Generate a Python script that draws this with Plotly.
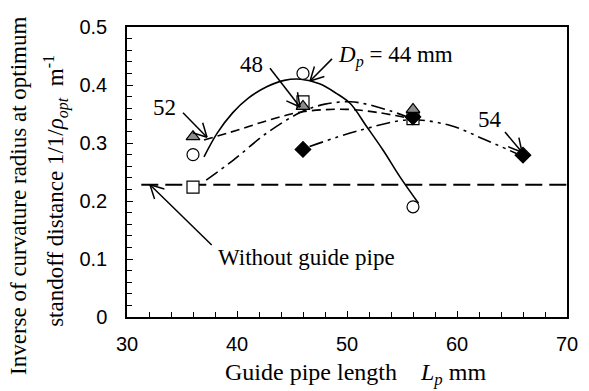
import math
import plotly.graph_objects as go

# ---- data ----
lp_points = [36, 46, 56]
d44_vals = [0.28, 0.42, 0.19]          # circles
d48_vals = [0.224, 0.371, 0.342]       # squares
d52_vals = [0.311, 0.363, 0.358]       # triangles
lp_54 = [46, 56, 66]
d54_vals = [0.289, 0.345, 0.279]       # diamonds

# fitted curves
c44_x = [37, 38.2, 39.6, 41, 42.7, 44.3, 45.8, 47.5, 49.0, 50.3, 51.8, 53.3, 54.8, 56.5]
c44_y = [0.276, 0.317, 0.352, 0.377, 0.397, 0.408, 0.410, 0.402, 0.386, 0.368, 0.328, 0.287, 0.242, 0.196]
c48_x = [37.2, 39.7, 42.7, 45.7, 48.0, 50.3, 52.0, 54.0, 55.5]
c48_y = [0.236, 0.271, 0.317, 0.352, 0.367, 0.371, 0.366, 0.355, 0.345]
c52_x = [37.0, 40.0, 43.0, 46.0, 50.0, 53.0, 55.5]
c52_y = [0.305, 0.322, 0.340, 0.354, 0.358, 0.352, 0.343]
c54_x = [46.6, 51.2, 55.7, 59.4, 62.4, 65.4]
c54_y = [0.294, 0.322, 0.340, 0.330, 0.307, 0.282]
no_pipe_x = [31.3, 70]
no_pipe_y = [0.228, 0.228]

# arrows: head and tail positions (data units)
arrow_head_x = [37.27, 45.73, 46.64, 65.91, 32.09]
arrow_head_y = [0.310, 0.362, 0.407, 0.284, 0.228]
arrow_tail_x = [35.09, 43.0, 48.64, 64.36, 37.7]
arrow_tail_y = [0.352, 0.429, 0.445, 0.319, 0.124]

label_x = [33.45, 41.36, 49.0, 63.0, 38.1]
label_y = [0.362, 0.436, 0.450, 0.340, 0.103]
label_text = ["52", "48", "<i>D</i><sub><i>p</i></sub> = 44 mm", "54", "Without guide pipe"]
label_anchor = ["center", "center", "left", "center", "left"]

x_range = [30, 70]
y_range = [0, 0.5]
x_ticks = [30, 40, 50, 60, 70]
y_ticks = [0, 0.1, 0.2, 0.3, 0.4, 0.5]
y_tick_text = ["0", "0.1", "0.2", "0.3", "0.4", "0.5"]

SERIF = "Liberation Serif, Times New Roman, serif"
SANS = "Liberation Sans, Arial, sans-serif"

W, H = 589, 391
ML, MR, MT, MB = 127, 22, 27, 74
px_x = (W - ML - MR) / (x_range[1] - x_range[0])
px_y = (H - MT - MB) / (y_range[1] - y_range[0])

fig = go.Figure()

def line(x, y, dash, width=1.6, shape="spline"):
    fig.add_trace(go.Scatter(x=x, y=y, mode="lines", line=dict(color="black", width=width, dash=dash, shape=shape),
                             showlegend=False, hoverinfo="skip"))

line(no_pipe_x, no_pipe_y, "17px,7px", 2, "linear")
line(c44_x, c44_y, "solid", 1.6)
line(c48_x, c48_y, "14px,5px,3px,5px", 1.6)
line(c52_x, c52_y, "9px,5px", 1.6)
line(c54_x, c54_y, "14px,5px,3px,5px,3px,5px", 1.6)

def markers(x, y, symbol, fill, size):
    fig.add_trace(go.Scatter(x=x, y=y, mode="markers",
                             marker=dict(symbol=symbol, size=size, color=fill, line=dict(color="black", width=1.2)),
                             showlegend=False, hoverinfo="skip"))

markers(lp_points, d44_vals, "circle", "white", 12)
markers(lp_points, d48_vals, "square", "white", 12)
markers(lp_54, d54_vals, "diamond", "black", 12)
markers(lp_points, d52_vals, "triangle-up", "#8c8c8c", 12)

# open "V" arrows
LEG, ANG = 15, math.radians(28)
for hx, hy, tx, ty in zip(arrow_head_x, arrow_head_y, arrow_tail_x, arrow_tail_y):
    dx = (tx - hx) * px_x
    dy = (ty - hy) * px_y
    n = math.hypot(dx, dy)
    ux, uy = dx / n, dy / n
    xs = [tx, hx]
    ys = [ty, hy]
    for s in (1, -1):
        c, si = math.cos(s * ANG), math.sin(s * ANG)
        rx, ry = ux * c - uy * si, ux * si + uy * c
        xs += [None, hx + LEG * rx / px_x, hx]
        ys += [None, hy + LEG * ry / px_y, hy]
    fig.add_trace(go.Scatter(x=xs, y=ys, mode="lines", line=dict(color="black", width=1.5),
                             showlegend=False, hoverinfo="skip", cliponaxis=False))

for x, y, t, anc in zip(label_x, label_y, label_text, label_anchor):
    fig.add_annotation(x=x, y=y, xref="x", yref="y", text=t, showarrow=False, xanchor=anc, yanchor="middle",
                       font=dict(family=SERIF, size=23, color="black"))

# y-axis title as two rotated lines
fig.add_annotation(x=-0.248, y=0.417, xref="paper", yref="paper", text="Inverse of curvature radius at optimum",
                   textangle=-90, showarrow=False, xanchor="center", yanchor="middle",
                   font=dict(family=SERIF, size=23, color="black"))
fig.add_annotation(x=-0.162, y=0.434, xref="paper", yref="paper",
                   text="standoff distance 1/1/<i>ρ</i><sub><i>opt</i></sub>  m<sup>-1</sup>",
                   textangle=-90, showarrow=False, xanchor="center", yanchor="middle",
                   font=dict(family=SERIF, size=23, color="black"))

# x-axis title (placed slightly right of centre, as in the reference)
fig.add_annotation(x=0.218, y=-0.197, xref="paper", yref="paper",
                   text="Guide pipe length\u00a0\u00a0\u00a0\u00a0<i>L</i><sub><i>p</i></sub> mm",
                   showarrow=False, xanchor="left", yanchor="middle",
                   font=dict(family=SERIF, size=24, color="black"))

fig.update_xaxes(range=x_range, tickvals=x_ticks, ticks="inside", ticklen=6, tickwidth=1.2, tickcolor="black",
                 minor=dict(dtick=2, ticks="inside", ticklen=5, tickcolor="black", tickwidth=1),
                 showline=True, linecolor="black", linewidth=1.5, mirror=True, showgrid=False, zeroline=False,
                 tickfont=dict(family=SANS, size=20, color="black"), ticklabelstandoff=8)
fig.update_yaxes(range=y_range, tickvals=y_ticks, ticktext=y_tick_text, ticks="inside", ticklen=6, tickwidth=1.2,
                 tickcolor="black",
                 minor=dict(dtick=0.02, ticks="inside", ticklen=5, tickcolor="black", tickwidth=1),
                 showline=True, linecolor="black", linewidth=1.5, mirror=True, showgrid=False, zeroline=False,
                 tickfont=dict(family=SANS, size=20, color="black"), ticklabelstandoff=14)

fig.update_layout(width=W, height=H, margin=dict(l=ML, r=MR, t=MT, b=MB),
                  plot_bgcolor="white", paper_bgcolor="white")

fig.write_html("out.html")
